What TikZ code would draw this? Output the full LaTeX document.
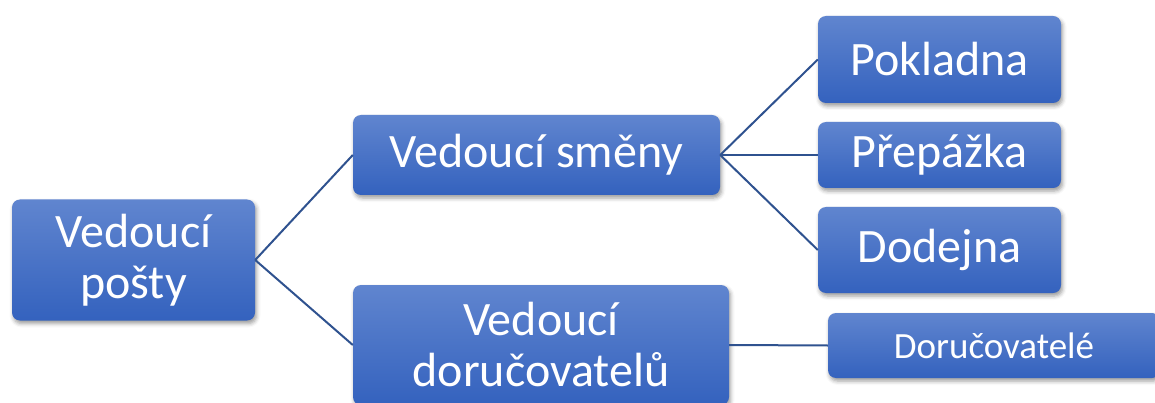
\documentclass[tikz,border=0pt]{standalone}
\usepackage{fontspec}
\setmainfont{Carlito}
\usetikzlibrary{shadows.blur}

\definecolor{boxtop}{RGB}{96,133,207}
\definecolor{boxbottom}{RGB}{52,98,190}
\definecolor{linka}{RGB}{47,82,143}

\begin{document}
\begin{tikzpicture}[x=1pt, y=-1pt,
        every node/.style = {shape=rectangle, rounded corners=8pt,
                             align=center, text=white, inner sep=0pt,
                             top color=boxtop, bottom color=boxbottom,
                             blur shadow={shadow xshift=1.5pt, shadow yshift=-3pt,
                                          shadow blur radius=4pt, shadow opacity=40},
                             font=\fontsize{48}{51}\selectfont},
        spojnice/.style = {draw=linka, line width=2pt}]
    \useasboundingbox (0,0) rectangle (1155,403);
    \clip (0,0) rectangle (1155,403);
    % prvni uroven
    \node[minimum width=243pt, minimum height=121pt] (posta) at (133.5,260) {Vedoucí\\pošty};
    % druha uroven
    \node[minimum width=367pt, minimum height=80pt] (smena) at (536.5,155) {Vedoucí směny};
    \node[minimum width=376pt, minimum height=120pt] (dorucovani) at (541,345) {Vedoucí\\doručovatelů};
    % treti uroven
    \node[minimum width=243pt, minimum height=87pt] (pokladna) at (939.5,59.5) {Pokladna};
    \node[minimum width=243pt, minimum height=66pt] (prepazka) at (939.5,155) {Přepážka};
    \node[minimum width=243pt, minimum height=86pt] (dodejna) at (939.5,250) {Dodejna};
    \node[minimum width=332pt, minimum height=65pt, font=\fontsize{37}{40}\selectfont]
        (dorucovatele) at (994,345.5) {Doručovatelé};
    % spojnice
    \draw[spojnice] (posta.east) -- (smena.west);
    \draw[spojnice] (posta.east) -- (dorucovani.west);
    \draw[spojnice] (smena.east) -- (pokladna.west);
    \draw[spojnice] (smena.east) -- (prepazka.west);
    \draw[spojnice] (smena.east) -- (dodejna.west);
    \draw[spojnice] (dorucovani.east) -- (dorucovatele.west);
\end{tikzpicture}
\end{document}
